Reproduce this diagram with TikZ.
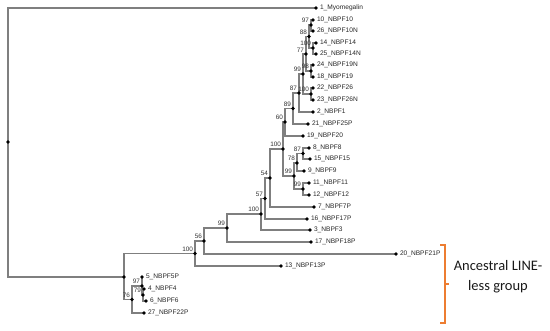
\documentclass[tikz,border=0pt]{standalone}
\usepackage{fontspec}
\usetikzlibrary{backgrounds}
\newfontfamily\arialf{Liberation Sans}
\newfontfamily\calf{Carlito}
\newcommand{\leaffont}{\arialf\fontsize{6.6}{7}\selectfont}
\newcommand{\bsfont}{\arialf\fontsize{6.4}{7}\selectfont}
\definecolor{brgray}{HTML}{7F7F7F}
\definecolor{bracketorange}{HTML}{ED7D31}
\tikzset{
  dot/.style={circle, fill=black, inner sep=0pt, minimum size=3.7pt},
  br/.style={draw=brgray, line width=1.2pt},
  lf/.style={font=\leaffont, text=black!85, inner sep=0.5pt, label distance=1.3pt},
  bs/.style={font=\bsfont, text=black!80, inner sep=0.3pt, label distance=0pt},
  brk/.style={draw=bracketorange, line width=1.3pt},
  grouptext/.style={font=\calf\fontsize{14.5}{20}\selectfont, align=center, text=black!90}
}
\begin{document}
\begin{tikzpicture}[x=1pt,y=-1pt]
\useasboundingbox (0,0) rectangle (550,331);
% leaves
\node[dot, label={[lf]right:1\_Myomegalin}] (l1) at (316,8) {};
\node[dot, label={[lf]right:10\_NBPF10}] (l10) at (313,20) {};
\node[dot, label={[lf]right:26\_NBPF10N}] (l26) at (313,31) {};
\node[dot, label={[lf]right:14\_NBPF14}] (l14) at (316,43) {};
\node[dot, label={[lf]right:25\_NBPF14N}] (l25) at (316,54) {};
\node[dot, label={[lf]right:24\_NBPF19N}] (l24) at (313,65) {};
\node[dot, label={[lf]right:18\_NBPF19}] (l18) at (313,77) {};
\node[dot, label={[lf]right:22\_NBPF26}] (l22) at (313,88) {};
\node[dot, label={[lf]right:23\_NBPF26N}] (l23) at (313,100) {};
\node[dot, label={[lf]right:2\_NBPF1}] (l2) at (313,112) {};
\node[dot, label={[lf]right:21\_NBPF25P}] (l21) at (308,124) {};
\node[dot, label={[lf]right:19\_NBPF20}] (l19) at (303,136) {};
\node[dot, label={[lf]right:8\_NBPF8}] (l8) at (309,148) {};
\node[dot, label={[lf]right:15\_NBPF15}] (l15) at (310,159) {};
\node[dot, label={[lf]right:9\_NBPF9}] (l9) at (304,171) {};
\node[dot, label={[lf]right:11\_NBPF11}] (l11) at (309,183) {};
\node[dot, label={[lf]right:12\_NBPF12}] (l12) at (309,195) {};
\node[dot, label={[lf]right:7\_NBPF7P}] (l7) at (314,207) {};
\node[dot, label={[lf]right:16\_NBPF17P}] (l16) at (307,219) {};
\node[dot, label={[lf]right:3\_NBPF3}] (l3) at (310,230) {};
\node[dot, label={[lf]right:17\_NBPF18P}] (l17) at (311,242) {};
\node[dot, label={[lf]right:20\_NBPF21P}] (l20) at (396,254) {};
\node[dot, label={[lf]right:13\_NBPF13P}] (l13) at (281,266) {};
\node[dot, label={[lf]right:5\_NBPF5P}] (l5) at (142,277) {};
\node[dot, label={[lf]right:4\_NBPF4}] (l4) at (144,289) {};
\node[dot, label={[lf]right:6\_NBPF6}] (l6) at (146,301) {};
\node[dot, label={[lf]right:27\_NBPF22P}] (l27) at (144,313) {};
% internal nodes
\node[dot] (root) at (8,142) {};
\node[dot] (nA) at (124,277) {};
\node[dot, label={[bs]above left:100}] (nB) at (195,253.5) {};
\node[dot, label={[bs]above left:76}] (nC) at (132,299.5) {};
\node[dot, label={[bs]above left:97}] (nD) at (142,286) {};
\node[dot, label={[bs]above left:79}] (nE) at (143,295) {};
\node[dot, label={[bs]above left:56}] (nF) at (204,241) {};
\node[dot, label={[bs]above left:99}] (nG) at (227,228) {};
\node[dot, label={[bs]above left:100}] (nH) at (261,214) {};
\node[dot, label={[bs]above left:57}] (nI) at (265,198.5) {};
\node[dot, label={[bs]above left:54}] (nJ) at (270,178) {};
\node[dot, label={[bs]above left:100}] (nK) at (283,149) {};
\node[dot, label={[bs]above left:99}] (nL) at (294,176) {};
\node[dot, label={[bs]above left:78}] (nQ) at (297,163) {};
\node[dot, label={[bs]above left:87}] (nS) at (303,153.5) {};
\node[dot, label={[bs]above left:99}] (nR) at (303,189) {};
\node[dot, label={[bs]above left:60}] (nM) at (285,122) {};
\node[dot, label={[bs]above left:89}] (nN) at (293,108.5) {};
\node[dot, label={[bs]above left:87}] (nO) at (299,93) {};
\node[dot, label={[bs]above left:99}] (n99a) at (303,74) {};
\node[dot, label={[bs]above left:100}] (n100c) at (311,94) {};
\node[dot, label={[bs]above left:77}] (n77) at (306,54) {};
\node[dot, label={[bs]above left:98}] (n99b) at (311,71) {};
\node[dot, label={[bs]above left:88}] (n88) at (309,36.5) {};
\node[dot, label={[bs]above left:97}] (n97) at (311,25) {};
\node[dot, label={[bs]above left:100}] (n100a) at (313,48) {};
% branches
\begin{scope}[on background layer]
\draw[br] (root.center) |- (l1.center);
\draw[br] (root.center) |- (nA.center);
\draw[br] (nA.center) |- (nB.center);
\draw[br] (nA.center) |- (nC.center);
\draw[br] (nC.center) |- (nD.center);
\draw[br] (nC.center) |- (l27.center);
\draw[br] (nD.center) |- (l5.center);
\draw[br] (nD.center) |- (nE.center);
\draw[br] (nE.center) |- (l4.center);
\draw[br] (nE.center) |- (l6.center);
\draw[br] (nB.center) |- (nF.center);
\draw[br] (nB.center) |- (l13.center);
\draw[br] (nF.center) |- (nG.center);
\draw[br] (nF.center) |- (l20.center);
\draw[br] (nG.center) |- (nH.center);
\draw[br] (nG.center) |- (l17.center);
\draw[br] (nH.center) |- (nI.center);
\draw[br] (nH.center) |- (l3.center);
\draw[br] (nI.center) |- (nJ.center);
\draw[br] (nI.center) |- (l16.center);
\draw[br] (nJ.center) |- (nK.center);
\draw[br] (nJ.center) |- (l7.center);
\draw[br] (nK.center) |- (nM.center);
\draw[br] (nK.center) |- (nL.center);
\draw[br] (nL.center) |- (nQ.center);
\draw[br] (nL.center) |- (nR.center);
\draw[br] (nQ.center) |- (nS.center);
\draw[br] (nQ.center) |- (l9.center);
\draw[br] (nS.center) |- (l8.center);
\draw[br] (nS.center) |- (l15.center);
\draw[br] (nR.center) |- (l11.center);
\draw[br] (nR.center) |- (l12.center);
\draw[br] (nM.center) |- (nN.center);
\draw[br] (nM.center) |- (l19.center);
\draw[br] (nN.center) |- (nO.center);
\draw[br] (nN.center) |- (l21.center);
\draw[br] (nO.center) |- (n99a.center);
\draw[br] (nO.center) |- (l2.center);
\draw[br] (n99a.center) |- (n77.center);
\draw[br] (n99a.center) |- (n100c.center);
\draw[br] (n100c.center) |- (l22.center);
\draw[br] (n100c.center) |- (l23.center);
\draw[br] (n77.center) |- (n88.center);
\draw[br] (n77.center) |- (n99b.center);
\draw[br] (n99b.center) |- (l24.center);
\draw[br] (n99b.center) |- (l18.center);
\draw[br] (n88.center) |- (n97.center);
\draw[br] (n88.center) |- (n100a.center);
\draw[br] (n97.center) |- (l10.center);
\draw[br] (n97.center) |- (l26.center);
\draw[br] (n100a.center) |- (l14.center);
\draw[br] (n100a.center) |- (l25.center);
\end{scope}
% bracket
\coordinate (bt) at (445,245);
\coordinate (bb) at (445,323);
\coordinate (bm) at (445,284);
\draw[brk] ([xshift=-5pt]bt) -- (bt) -- (bb) -- ([xshift=-5pt]bb);
\draw[brk] (bm) -- ([xshift=4pt]bm);
\node[grouptext] (grp) at (498,277) {Ancestral LINE-\\less group};
\end{tikzpicture}
\end{document}
